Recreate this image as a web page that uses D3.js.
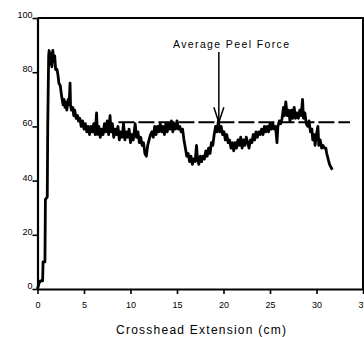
<!DOCTYPE html>
<html><head><meta charset="utf-8">
<script src="https://cdn.jsdelivr.net/npm/d3@7"></script>
<style>html,body{margin:0;padding:0;background:#fff;}svg{display:block;}</style>
</head><body><svg id="c" width="364" height="337"></svg>
<script>
const extension = [0,0.15,0.3,0.55,0.6,0.8,0.85,1.05,1.1,1.2,
1.25,1.35,1.45,1.55,1.65,1.75,1.85,1.95,2.1,2.2,2.3,2.45,2.6,2.75,2.85,2.95,3.05,3.15,3.3,3.4,3.5,3.55,3.65,3.8,3.9,4.0,4.15,4.3,4.4,4.55,4.7,4.85,5.0,5.15,5.3,5.45,5.6,5.75,5.9,6.05,6.2,6.35,6.45,6.6,6.75,6.9,7.05,7.2,7.35,7.5,7.65,7.8,7.9,8.05,8.2,8.35,8.5,8.65,8.8,8.95,9.1,9.25,9.4,9.55,9.7,9.85,10.0,10.15,10.3,10.5,10.65,10.8,10.95,11.1,11.25,11.4,11.55,11.7,11.85,12.0,12.15,12.3,12.45,12.6,12.75,12.9,13.05,13.2,13.35,13.5,13.65,13.8,13.95,14.1,14.25,14.4,14.55,14.7,14.85,15.0,15.15,15.3,15.45,15.6,15.75,15.9,16.05,16.2,16.35,16.5,16.65,16.8,16.95,17.1,17.2,17.35,17.5,17.65,17.8,17.95,18.1,18.25,18.4,18.55,18.7,18.85,19.0,19.15,19.3,19.45,19.6,19.75,19.9,20.05,20.2,20.35,20.5,20.65,20.8,20.95,21.1,21.25,21.4,21.55,21.7,21.85,22.0,22.15,22.3,22.45,22.6,22.75,22.9,23.05,23.2,23.35,23.5,23.65,23.8,23.95,24.1,24.25,24.4,24.55,24.7,24.85,25.0,25.15,25.3,25.45,25.6,25.75,25.85,26.0,26.15,26.3,26.45,26.55,26.7,26.85,27.0,27.15,27.3,27.45,27.6,27.75,27.9,28.05,28.2,28.35,28.5,28.6,28.75,28.9,29.05,29.2,29.35,29.5,29.6,29.75,29.85,30.0,30.15,30.25,30.4,30.55,30.7,30.85,31.0,31.1,31.25,31.4,31.55,31.7];
const force = [0,2,3,3,10,10,33,34,60,86,
88,83,87,82,88,84,86,81,81,79,76,75,71,68,70,67,69,66,70,68,76,68,66,67,64,66,63,64,62,63,60,62,59,61,58,60,57,60,58,61,57,65,57,60,56,59,57,61,58,62,57,64,58,61,56,59,57,60,55,58,56,61,55,58,56,59,54,57,55,61,56,58,54,56,53,54,50,49,53,55,57,58,56,60,57,60,58,61,58,60,57,61,58,61,59,62,58,61,59,62,59,60,58,59,55,52,49,50,47,49,46,48,47,53,48,46,49,47,49,48,51,49,52,50,54,53,57,60,58,62,58,60,57,58,55,57,54,55,52,54,51,54,52,55,53,56,52,55,53,56,54,52,55,54,57,55,58,56,58,57,59,57,60,58,60,58,61,59,61,59,60,54,60,62,61,63,67,64,69,64,66,62,66,63,67,63,65,63,66,64,70,63,65,61,60,62,58,59,55,57,53,57,60,53,55,52,53,52,52,50,48,46,45,44];
const xTicks = [0,5,10,15,20,25,30,35];
const yTicks = [0,20,40,60,80,100];
const averageForce = [61.5];
const averageSpan = [8.7, 33.6];
const arrowAt = [19.5];
const annotationText = "Average Peel Force";
const xTitle = "Crosshead Extension (cm)";

const svg = d3.select("#c");
const font = "'Liberation Sans', Arial, sans-serif";
const x = d3.scaleLinear().domain([0,35]).range([37.5,363]);
const y = d3.scaleLinear().domain([0,100]).range([289,18]);

// frame (top & right)
svg.append("path").attr("d", `M${x(0)},${y(100)}H${x(35)}V${y(0)}`)
  .attr("fill","none").attr("stroke","#000").attr("stroke-width",2);

const xa = svg.append("g").attr("transform",`translate(0,${y(0)})`)
  .call(d3.axisBottom(x).tickValues(xTicks).tickSize(5).tickPadding(8).tickSizeOuter(0));
const ya = svg.append("g").attr("transform",`translate(${x(0)},0)`)
  .call(d3.axisLeft(y).tickValues(yTicks).tickSize(5).tickPadding(0).tickSizeOuter(0));
[xa,ya].forEach(g=>{
  g.select(".domain").attr("stroke-width",2.2);
  g.selectAll(".tick line").attr("stroke-width",1.6);
  g.selectAll("text").attr("font-family",font).attr("font-size",9).attr("fill","#000");
});
ya.selectAll("text").attr("dy","-0.05em");

// average dashed line
svg.append("line")
  .attr("x1",x(averageSpan[0])).attr("x2",x(averageSpan[1]))
  .attr("y1",y(averageForce[0])).attr("y2",y(averageForce[0]))
  .attr("stroke","#000").attr("stroke-width",2).attr("stroke-dasharray","16,4");

// data line
const pts = extension.map((e,i)=>[e,force[i]]);
svg.append("path").datum(pts)
  .attr("d", d3.line().x(d=>x(d[0])).y(d=>y(d[1])))
  .attr("fill","none").attr("stroke","#000").attr("stroke-width",2.8)
  .attr("stroke-linejoin","round");

// arrow annotation
const ax = x(arrowAt[0]), ay = y(averageForce[0]);
svg.append("line").attr("x1",ax).attr("x2",ax).attr("y1",52).attr("y2",ay)
  .attr("stroke","#000").attr("stroke-width",1.5);
svg.append("path").attr("d",`M${ax-5},${ay-15}L${ax},${ay}L${ax+5},${ay-15}`)
  .attr("fill","none").attr("stroke","#000").attr("stroke-width",1.5);
svg.append("text").attr("x",173).attr("y",48).attr("font-family",font).attr("font-size",10.5)
  .attr("textLength",116).attr("lengthAdjust","spacing").text(annotationText);

svg.append("text").attr("x",201).attr("y",334).attr("text-anchor","middle")
  .attr("font-family",font).attr("font-size",12)
  .attr("textLength",170).attr("lengthAdjust","spacing").text(xTitle);
</script></body></html>
